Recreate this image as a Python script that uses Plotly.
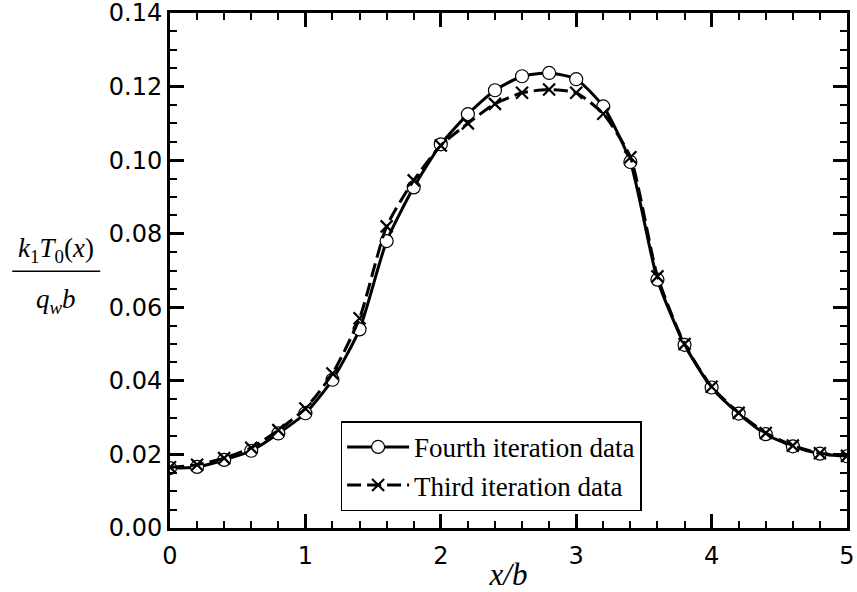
import plotly.graph_objects as go

x_vals = [0.0, 0.2, 0.4, 0.6, 0.8, 1.0, 1.2, 1.4, 1.6, 1.8, 2.0, 2.2, 2.4,
          2.6, 2.8, 3.0, 3.2, 3.4, 3.6, 3.8, 4.0, 4.2, 4.4, 4.6, 4.8, 5.0]
fourth = [0.0163, 0.0166, 0.0185, 0.0210, 0.0257, 0.0312, 0.0403, 0.0540,
          0.0780, 0.0926, 0.1043, 0.1125, 0.1190, 0.1228, 0.1237, 0.1220,
          0.1146, 0.0995, 0.0675, 0.0498, 0.0382, 0.0311, 0.0255, 0.0222,
          0.0202, 0.0195]
third = [0.0165, 0.0172, 0.0190, 0.0218, 0.0266, 0.0325, 0.0420, 0.0570,
         0.0820, 0.0945, 0.1040, 0.1100, 0.1153, 0.1183, 0.1192, 0.1183,
         0.1126, 0.1008, 0.0684, 0.0500, 0.0384, 0.0313, 0.0258, 0.0224,
         0.0203, 0.0196]
x_ticks = [0, 1, 2, 3, 4, 5]
x_tick_text = ["0", "1", "2", "3", "4", "5"]
y_ticks = [0, 0.02, 0.04, 0.06, 0.08, 0.10, 0.12, 0.14]
y_tick_text = ["0.00", "0.02", "0.04", "0.06", "0.08", "0.10", "0.12", "0.14"]

fig = go.Figure()
fig.add_trace(go.Scatter(
    x=x_vals, y=fourth, name="Fourth iteration data",
    mode="lines+markers",
    line=dict(color="black", width=3, shape="spline", smoothing=0.6),
    marker=dict(symbol="circle", size=13, color="white",
                line=dict(width=1.2, color="black")),
))
fig.add_trace(go.Scatter(
    x=x_vals, y=third, name="Third iteration data",
    mode="lines+markers",
    line=dict(color="black", width=3, dash="14px,6px", shape="spline", smoothing=0.6),
    marker=dict(symbol="x-thin-open", size=12, color="black",
                line=dict(width=2.2, color="black")),
))

axis_font = dict(family="DejaVu Sans", size=24, color="black")
serif_family = "Liberation Serif, Times New Roman, serif"

fig.update_layout(
    width=857, height=592,
    margin=dict(l=170, r=10, t=13, b=64, autoexpand=False),
    plot_bgcolor="white", paper_bgcolor="white",
    showlegend=True,
    legend=dict(
        x=0.252, y=0.207, xanchor="left", yanchor="top",
        bgcolor="white", bordercolor="black", borderwidth=1.5,
        font=dict(family=serif_family, size=27, color="black"),
        tracegroupgap=0, itemwidth=62,
    ),
    xaxis=dict(
        range=[0, 5], tickmode="array", tickvals=x_ticks, ticktext=x_tick_text,
        ticks="inside", ticklen=14, tickwidth=2.5, tickcolor="black",
        showline=True, linewidth=3, linecolor="black", mirror="allticks",
        showgrid=False, zeroline=False, tickfont=axis_font,
        automargin=False, ticklabeloverflow="allow", ticklabelstandoff=4,
        minor=dict(ticks="inside", ticklen=7, tickwidth=1.5, dtick=0.2,
                   tickcolor="black", showgrid=False),
        title=dict(text="<i>x/b</i>",
                   font=dict(family=serif_family, size=31, color="black"),
                   standoff=0),
    ),
    yaxis=dict(
        range=[0, 0.14], tickmode="array", tickvals=y_ticks, ticktext=y_tick_text,
        ticks="inside", ticklen=14, tickwidth=2.5, tickcolor="black",
        showline=True, linewidth=3, linecolor="black", mirror="allticks",
        showgrid=False, zeroline=False, tickfont=axis_font,
        automargin=False, ticklabeloverflow="allow",
        minor=dict(ticks="inside", ticklen=7, tickwidth=1.5, dtick=0.005,
                   tickcolor="black", showgrid=False),
    ),
)

serif = dict(family=serif_family, size=27, color="black")
fig.add_annotation(
    text="<i>k</i><sub>1</sub><i>T</i><sub>0</sub>(<i>x</i>)",
    xref="paper", yref="paper", x=-0.168, y=0.503, xanchor="center", yanchor="bottom",
    showarrow=False, font=serif,
)
fig.add_annotation(
    text="<i>q</i><sub><i>w</i></sub><i>b</i>",
    xref="paper", yref="paper", x=-0.168, y=0.478, xanchor="center", yanchor="top",
    showarrow=False, font=serif,
)
fig.add_shape(
    type="line", xref="paper", yref="paper",
    x0=-0.233, x1=-0.103, y0=0.4985, y1=0.4985,
    line=dict(color="black", width=1.5),
)

fig.write_html("out.html")
